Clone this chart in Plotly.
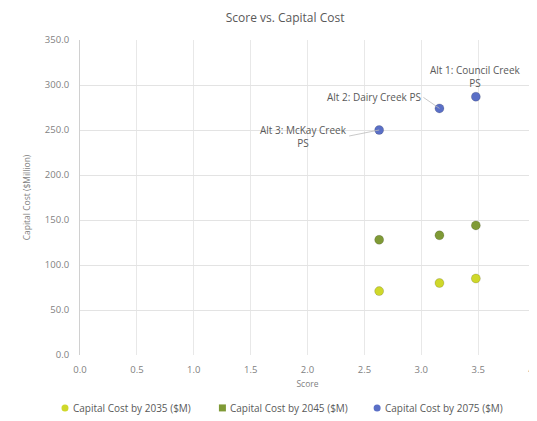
import plotly.graph_objects as go

alternatives = ["Alt 3: McKay Creek PS", "Alt 2: Dairy Creek PS", "Alt 1: Council Creek PS"]
scores = [2.63, 3.16, 3.48]
cost_2035 = [71, 80, 85]
cost_2045 = [128, 133, 144]
cost_2075 = [250, 274, 287]
series_names = ["Capital Cost by 2035 ($M)", "Capital Cost by 2045 ($M)", "Capital Cost by 2075 ($M)"]
colors = ["#cfd82a", "#7f9a36", "#5a6fc6"]

fig = go.Figure()
for name, vals, col in zip(series_names, [cost_2035, cost_2045, cost_2075], colors):
    fig.add_trace(go.Scatter(
        x=scores, y=vals, mode="markers", name=name, showlegend=False,
        marker=dict(size=9, color=col, line=dict(width=1, color="rgba(0,0,0,0.15)")),
    ))

label_text = ["Alt 3: McKay Creek<br>PS", "Alt 2: Dairy Creek PS", "Alt 1: Council Creek<br>PS"]
offsets = [(-30, 6, "right", "middle"), (-16, -11, "right", "middle"), (0, -20, "center", "bottom")]
for xs, ys, txt, (ax, ay, xa, ya) in zip(scores, cost_2075, label_text, offsets):
    fig.add_annotation(
        x=xs, y=ys, text=txt, showarrow=(ax != 0), ax=ax, ay=ay,
        arrowhead=0, arrowwidth=0.8, arrowcolor="#bbbbbb",
        xanchor=xa, yanchor=ya, align="center",
        yshift=(5 if ax == 0 else 0),
        font=dict(size=10, color="#595959", family="Open Sans"),
    )

# legend row (custom, to match the compact spacing of the reference)
legend_x = [-0.033, 0.313, 0.653]
legend_y = -0.168
legend_symbols = ["circle", "rect", "circle"]
for name, col, lx, sym in zip(series_names, colors, legend_x, legend_symbols):
    fig.add_shape(type=sym, xref="paper", yref="paper", xsizemode="pixel", ysizemode="pixel",
                  xanchor=lx, yanchor=legend_y, x0=-3.5, x1=3.5, y0=-3.5, y1=3.5,
                  fillcolor=col, line=dict(width=0))
    fig.add_annotation(x=lx, y=legend_y, xref="paper", yref="paper", text=name, showarrow=False,
                       xanchor="left", yanchor="middle", xshift=6,
                       font=dict(size=10, color="#595959", family="Open Sans"))

fig.update_layout(
    width=537, height=421,
    paper_bgcolor="white", plot_bgcolor="white",
    margin=dict(l=72, r=10, t=32, b=74),
    title=dict(text="Score vs. Capital Cost", x=0.516, xanchor="center", y=0.976, yanchor="middle",
               font=dict(size=12, color="#595959", family="Open Sans")),
    font=dict(family="Open Sans", size=9, color="#7f7f7f"),
    xaxis=dict(range=[0, 4], dtick=0.5, tickformat=".1f", showgrid=True, gridcolor="#e8e8e8",
               zeroline=False, showline=False, ticks="", automargin=False, ticklabelstandoff=7,
               tickfont=dict(size=9.5),
               title=dict(text="Score", font=dict(size=8.5, color="#7f7f7f"), standoff=6)),
    yaxis=dict(range=[0, 350], dtick=50, tickformat=".1f", showgrid=True, gridcolor="#e3e3e3",
               zeroline=False, showline=True, linecolor="#d0d0d0", ticks="", automargin=False,
               ticklabelstandoff=8, tickfont=dict(size=9.5),
               title=dict(text="Capital Cost ($Million)", font=dict(size=8.5, color="#7f7f7f"), standoff=12)),
    showlegend=False,
)

fig.write_html("out.html")
